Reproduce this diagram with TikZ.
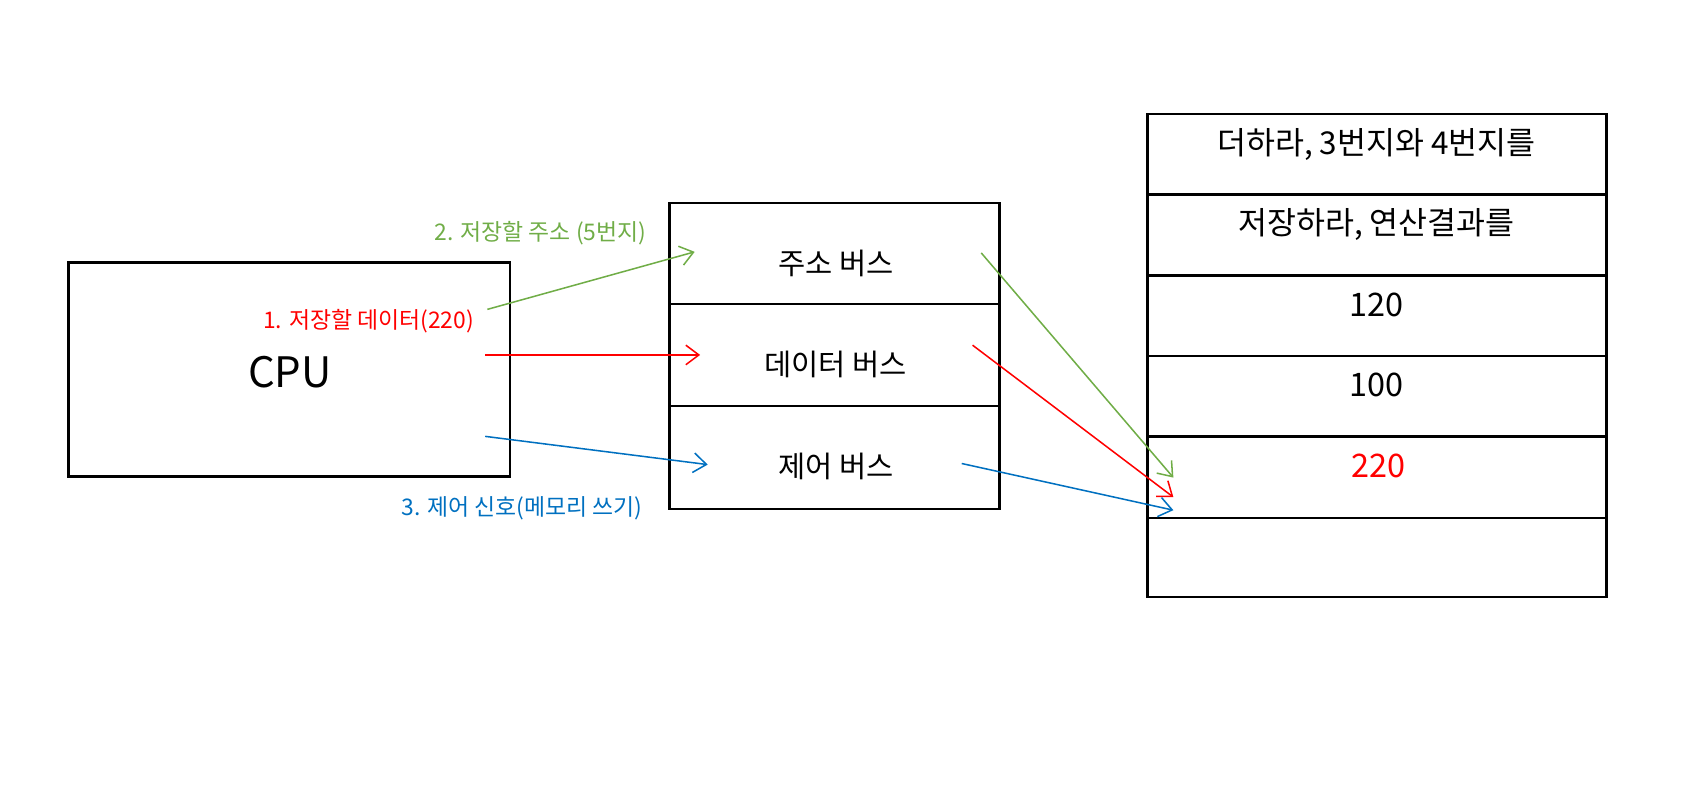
\documentclass[tikz,border=0pt]{standalone}
\usepackage{fontspec}
\setmainfont{Noto Sans CJK KR}
\usetikzlibrary{arrows.meta}
\definecolor{addrgreen}{RGB}{112,173,71}
\definecolor{ctrlblue}{RGB}{0,112,192}
\begin{document}
\begin{tikzpicture}[x=0.02cm,y=-0.02cm,
  box/.style={line width=1.3pt},
  bus/.style={line width=0.8pt,-{Straight Barb[length=2.4mm,width=3.6mm]}},
  big/.style={font=\fontsize{15.5}{18}\selectfont},
  memtxt/.style={font=\fontsize{16.5}{19}\selectfont},
  small/.style={font=\fontsize{12}{14}\selectfont},
  num/.style={font=\fontsize{17}{20}\selectfont}]
\useasboundingbox (0,0) rectangle (1568,725);
\draw[box] (63,242) rectangle (470,439);
\node[font=\fontsize{22}{26}\selectfont] (cpu) at (267,343) {CPU};
\draw[box] (617,187) rectangle (921,469);
\draw[box] (617,280)--(921,280) (617,374)--(921,374);
\node[big] (abus) at (770,243) {주소 버스};
\node[big] (dbus) at (770,336) {데이터 버스};
\node[big] (cbus) at (770,430) {제어 버스};
\draw[box] (1057,105) rectangle (1480,550);
\foreach \y in {179,254,328,402,477} \draw[box] (1057,\y)--(1480,\y);
\node[memtxt] (mem1) at (1268,133) {더하라, 3번지와 4번지를};
\node[memtxt] (mem2) at (1268,207) {저장하라, 연산결과를};
\node[num] (mem3) at (1268,281) {120};
\node[num] (mem4) at (1268,355) {100};
\node[num,red] (mem5) at (1270,429) {220};
\node[small,red,anchor=east] (dlbl) at (443,296) {1. 저장할 데이터(220)};
\node[small,addrgreen] (albl) at (498,215) {2. 저장할 주소 (5번지)};
\node[small,ctrlblue] (clbl) at (481,468) {3. 제어 신호(메모리 쓰기)};
\coordinate (a0) at (449,285); \coordinate (a1) at (640,232);
\coordinate (d0) at (447,327); \coordinate (d1) at (645,327);
\coordinate (c0) at (447,402); \coordinate (c1) at (652,428);
\coordinate (a2) at (904,233); \coordinate (a3) at (1081,440);
\coordinate (d2) at (896,318); \coordinate (d3) at (1081,458);
\coordinate (c2) at (886,427); \coordinate (c3) at (1081,470);
\draw[bus,addrgreen] (a0)--(a1);
\draw[bus,red] (d0)--(d1);
\draw[bus,ctrlblue] (c0)--(c1);
\draw[bus,addrgreen] (a2)--(a3);
\draw[bus,red] (d2)--(d3);
\draw[bus,ctrlblue] (c2)--(c3);
\end{tikzpicture}
\end{document}
